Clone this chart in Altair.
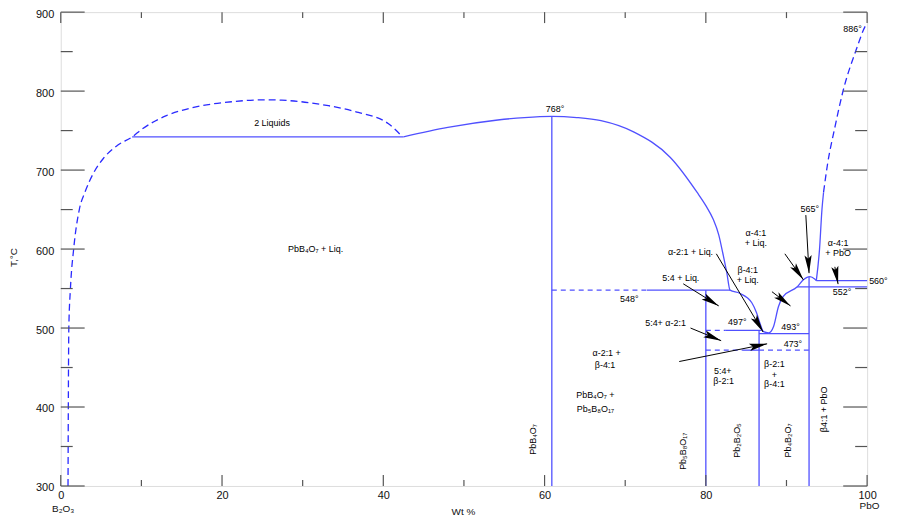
import math
import altair as alt
import pandas as pd

W, H = 810, 476
X0, X1 = 0, 100
T0, T1 = 300, 900
PX_X = W / (X1 - X0)
PX_T = H / (T1 - T0)

BLUE = "#5050ff"
FONT = "Liberation Sans"

X_MAJOR = [0, 20, 40, 60, 80, 100]
X_MINOR = [10, 30, 50, 70, 90]
T_MAJOR = [300, 400, 500, 600, 700, 800, 900]
T_MINOR = [350, 450, 550, 650, 750, 850]

# B2O3 liquidus + 2-liquid miscibility dome (dashed)
dome_x = [0.9, 1.0, 1.2, 1.6, 2.3, 3.0, 4.0, 5.3, 7.0, 8.85, 10.1, 13.1, 16.3, 21.2, 25.4, 27.4, 33.2, 36.9, 40.6, 42.3]
dome_t = [300, 500, 550, 600, 650, 672, 695, 715, 731, 742, 752, 769, 779, 786.5, 789, 788.5, 781.5, 773, 759, 743]

# main liquidus (solid)
liq_x = [42.5, 48.0, 54.2, 57.5, 60.9, 64.0, 67.0, 71.1, 75.6, 78.9, 80.0, 80.9, 81.6, 82.1, 82.6, 83.0,
         84.2, 85.7, 86.3, 86.7, 87.15, 87.8, 88.4, 89.0, 89.6, 91.3, 92.1, 92.9, 93.5, 93.7]
liq_t = [742, 754, 763.4, 766.5, 768, 766.5, 762.5, 748, 716, 672, 655, 638, 618, 595, 570, 548,
         544, 532, 519, 506.5, 495.5, 494, 502, 527, 540, 552, 561, 565, 562, 560]

# PbO liquidus
pbo_solid_x = [93.7, 94.1, 94.4, 94.6]
pbo_solid_t = [560, 600, 650, 672]
pbo_dash_x = [94.6, 95.1, 96.0, 97.0, 98.6, 99.9, 100.0]
pbo_dash_t = [672, 708, 754, 799.5, 851, 884.5, 886]

# straight boundaries: x1, t1, x2, t2, dashed
seg_x1 = [8.85, 60.9, 72.7, 80.0, 82.4, 86.6, 80.0, 84.6, 86.6, 91.3, 93.7, 60.9, 80.0, 86.6, 92.8]
seg_t1 = [742, 548, 548, 497, 497, 493, 472, 472, 472, 552, 560, 300, 300, 300, 300]
seg_x2 = [42.5, 72.7, 83.0, 82.4, 86.9, 92.8, 84.6, 86.6, 92.8, 100, 100, 60.9, 80.0, 86.6, 92.8]
seg_t2 = [742, 548, 548, 497, 497, 493, 472, 472, 472, 552, 560, 768, 548, 497, 565]
seg_dash = [False, True, False, True, False, False, True, False, True, False, False, False, False, False, False]

# arrows: start -> tip
arr_x0 = [81.3, 77.2, 78.1, 76.7, 88.2, 89.8, 92.4, 96.0]
arr_t0 = [594, 556, 500, 457.6, 546, 594, 643, 577.5]
arr_x1 = [87.1, 81.6, 81.9, 87.6, 90.5, 92.1, 92.8, 96.4]
arr_t1 = [495, 528, 484, 480, 528, 561, 569.5, 555.6]

# labels
lab_text = ["2 Liquids", "PbB₄O₇ + Liq.", "768°", "548°", "α-2:1 + Liq.", "5:4 + Liq.",
            "α-4:1", "+ Liq.", "β-4:1", "+ Liq.", "565°", "α-4:1", "+ PbO", "560°", "552°",
            "497°", "493°", "473°", "5:4+ α-2:1", "α-2:1 +", "β-4:1", "PbB₄O₇ +", "Pb₅B₈O₁₇",
            "5:4+", "β-2:1", "β-2:1", "+", "β-4:1", "886°",
            "β4:1 + PbO", "PbB₄O₇", "Pb₅B₈O₁₇", "Pb₂B₂O₅", "Pb₄B₂O₇"]
lab_x = [26.2, 31.6, 61.3, 70.5, 78.1, 76.9,
         86.2, 86.2, 85.2, 85.2, 92.9, 96.4, 96.4, 101.4, 96.9,
         83.9, 90.5, 90.8, 75.0, 67.7, 67.5, 66.3, 66.3,
         82.1, 82.2, 88.5, 88.5, 88.5, 98.2,
         94.7, 58.6, 77.2, 83.9, 90.2]
lab_t = [760, 600, 777.5, 537, 596, 563,
         620, 608, 573, 561, 651, 607.5, 595, 560, 546,
         507, 501, 480, 506, 469, 453.5, 415.6, 397,
         445.5, 433.5, 454, 441, 428.5, 878.5,
         397, 359, 344, 357.6, 357.6]
lab_angle = [0] * 29 + [270] * 5

# end-member names under the axis
end_text_v = ["B₂O₃", "PbO"]
end_x = [0.3, 100.3]
end_t = [271, 275]

# ---------- tables ----------
rows = []
def add_curve(cid, xs, ts, dashed):
    for i, (a, b) in enumerate(zip(xs, ts)):
        rows.append({"id": cid, "i": i, "x": a, "t": b, "dashed": dashed})

add_curve("dome", dome_x, dome_t, True)
add_curve("liq", liq_x, liq_t, False)
add_curve("pbo_s", pbo_solid_x, pbo_solid_t, False)
add_curve("pbo_d", pbo_dash_x, pbo_dash_t, True)
curves = pd.DataFrame(rows)

segs = pd.DataFrame({"x": seg_x1, "t": seg_t1, "x2": seg_x2, "t2": seg_t2, "dashed": seg_dash})
arrows = pd.DataFrame({"x": arr_x0, "t": arr_t0, "x2": arr_x1, "t2": arr_t1})

HEAD = 9  # half length of arrowhead in px
heads = []
for a, b, c, d in zip(arr_x0, arr_t0, arr_x1, arr_t1):
    dxp = (c - a) * PX_X
    dyp = -(d - b) * PX_T
    n = math.hypot(dxp, dyp)
    ux, uy = dxp / n, dyp / n
    ang = math.degrees(math.atan2(ux, -uy)) % 360
    heads.append({"x": c - HEAD * ux / PX_X, "t": d + HEAD * uy / PX_T, "ang": ang})
heads = pd.DataFrame(heads)

labels = pd.DataFrame({"text": lab_text, "x": lab_x, "t": lab_t, "ang": lab_angle})
ends = pd.DataFrame({"text": end_text_v, "x": end_x, "t": end_t})

# inner tick marks (lengths in px converted to data units)
tx = pd.DataFrame({"v": X_MAJOR + X_MINOR, "L": [11] * len(X_MAJOR) + [6] * len(X_MINOR)})
tt = pd.DataFrame({"v": T_MAJOR + T_MINOR, "L": [24] * len(T_MAJOR) + [12] * len(T_MINOR)})

xs = alt.Scale(domain=[X0, X1], nice=False, zero=False)
ts = alt.Scale(domain=[T0, T1], nice=False, zero=False)

AX = alt.Axis(values=X_MAJOR, ticks=False, domain=False, grid=False, labelFontSize=11,
              labelFont=FONT, labelColor="#111", labelPadding=4, labelFlush=False,
              title="Wt %", titleFont=FONT, titleFontSize=10, titleFontWeight="normal",
              titleX=404, titleY=21, titleColor="#111")
AT = alt.Axis(values=T_MAJOR, ticks=False, domain=False, grid=False, labelFontSize=11,
              labelFont=FONT, labelColor="#111", labelPadding=7, labelFlush=False,
              labelOffset=2,
              title="T,°C", titleFont=FONT, titleFontSize=10, titleFontWeight="normal",
              titleX=-47, titleY=246, titleAngle=270, titleBaseline="middle",
              titleColor="#111")

def X(f="x"):
    return alt.X(f"{f}:Q", scale=xs, axis=AX, title="Wt %")

def T(f="t"):
    return alt.Y(f"{f}:Q", scale=ts, axis=AT, title="T,°C")

solid_curves = alt.Chart(curves).transform_filter("!datum.dashed").mark_line(
    color=BLUE, strokeWidth=1.3, interpolate="monotone").encode(
    x=X(), y=T(), detail="id:N", order="i:Q")

dashed_curves = alt.Chart(curves).transform_filter("datum.dashed").mark_line(
    color="#2a2aff", strokeWidth=1.3, strokeDash=[7, 4], interpolate="monotone").encode(
    x=X(), y=T(), detail="id:N", order="i:Q")

solid_segs = alt.Chart(segs).transform_filter("!datum.dashed").mark_rule(
    color=BLUE, strokeWidth=1.3).encode(x=X(), y=T(), x2="x2:Q", y2="t2:Q")
dashed_segs = alt.Chart(segs).transform_filter("datum.dashed").mark_rule(
    color=BLUE, strokeWidth=1.3, strokeDash=[5, 4]).encode(x=X(), y=T(), x2="x2:Q", y2="t2:Q")

arrow_lines = alt.Chart(arrows).mark_rule(color="black", strokeWidth=1).encode(
    x=X(), y=T(), x2="x2:Q", y2="t2:Q")
arrow_heads = alt.Chart(heads).mark_point(
    shape="M0,-1L0.4,1L0,0.6L-0.4,1Z", filled=True, color="black", opacity=1,
    size=(2 * HEAD) ** 2).encode(
    x=X(), y=T(), angle=alt.Angle("ang:Q", scale=None))

text = alt.Chart(labels).mark_text(font=FONT, fontSize=9, color="black").encode(
    x=X(), y=T(), text="text:N", angle=alt.Angle("ang:Q", scale=None))

TICK = "#555555"
tick_bottom = alt.Chart(tx).transform_calculate(
    t=f"{T0}", t2=f"{T0} + datum.L / {PX_T}").mark_rule(color=TICK, strokeWidth=1.2).encode(
    x=X("v"), y=T(), y2="t2:Q")
tick_top = alt.Chart(tx).transform_calculate(
    t=f"{T1}", t2=f"{T1} - datum.L / {PX_T}").mark_rule(color=TICK, strokeWidth=1.2).encode(
    x=X("v"), y=T(), y2="t2:Q")
tick_left = alt.Chart(tt).transform_calculate(
    x=f"{X0}", x2=f"{X0} + datum.L / {PX_X}").mark_rule(color=TICK, strokeWidth=1.2).encode(
    y=T("v"), x=X(), x2="x2:Q")
tick_right = alt.Chart(tt).transform_calculate(
    x=f"{X1}", x2=f"{X1} - datum.L / {PX_X}").mark_rule(color=TICK, strokeWidth=1.2).encode(
    y=T("v"), x=X(), x2="x2:Q")

end_text = alt.Chart(ends).mark_text(font=FONT, fontSize=10, color="#111").encode(
    x=X(), y=T(), text="text:N")

chart = alt.layer(
    solid_curves, dashed_curves, solid_segs, dashed_segs,
    tick_bottom, tick_top, tick_left, tick_right,
    arrow_lines, arrow_heads, text, end_text
).properties(
    width=W, height=H,
    autosize=alt.AutoSizeParams(type="none"),
    padding={"left": 53, "top": 3, "right": 25, "bottom": 29},
).configure_view(stroke="#7a7a7a", strokeWidth=1.5).configure(background="white")

chart.save("out.html", embed_options={"renderer": "svg", "actions": False})
